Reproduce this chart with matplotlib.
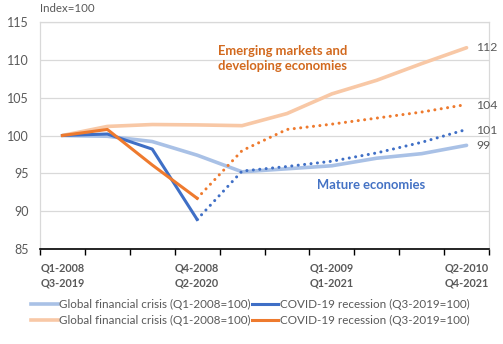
import matplotlib
matplotlib.use("Agg")
import matplotlib.pyplot as plt
from matplotlib.lines import Line2D

plt.rcParams['font.family'] = ['Lato', 'DejaVu Sans']

# Data (index = 100 at start of each recession)
x_labels = ["Q1-2008\nQ3-2019", "", "", "Q4-2008\nQ2-2020", "", "",
            "Q1-2009\nQ1-2021", "", "", "Q2-2010\nQ4-2021"]
quarters = list(range(10))

gfc_mature = [100, 99.9, 99.2, 97.4, 95.2, 95.6, 96.0, 97.0, 97.6, 98.7]
gfc_emerging = [100, 101.2, 101.45, 101.4, 101.3, 102.9, 105.5, 107.3, 109.5, 111.6]

covid_mature_actual = [100, 100.2, 98.2, 88.9]
covid_mature_forecast = [88.9, 95.3, 95.9, 96.6, 97.7, 99.1, 100.8]
covid_emerging_actual = [100, 100.8, 96.1, 91.7]
covid_emerging_forecast = [91.7, 98.0, 100.8, 101.5, 102.3, 103.1, 104.1]

end_labels = ["112", "104", "101", "99"]
end_values = [111.6, 104.0, 100.7, 98.7]

c_lblue = "#A9C1E6"
c_dblue = "#3F6FC6"
c_lorange = "#F8C8A6"
c_orange = "#EE7A2E"
c_text = "#595959"

fig = plt.figure(figsize=(5.03, 3.44), dpi=100)
ax = fig.add_axes([40/503, 1-249/344, (489-40)/503, (249-22)/344])

ax.plot(quarters, gfc_mature, color=c_lblue, lw=2.6, solid_capstyle='round', zorder=2)
ax.plot(quarters, gfc_emerging, color=c_lorange, lw=2.6, solid_capstyle='round', zorder=2)
ax.plot(quarters[:4], covid_mature_actual, color=c_dblue, lw=2.2, zorder=3)
ax.plot(quarters[:4], covid_emerging_actual, color=c_orange, lw=2.2, zorder=3)
ax.plot(quarters[3:], covid_mature_forecast, color=c_dblue, lw=2.2,
        linestyle=(0, (0.01, 2.1)), dash_capstyle='round', zorder=3)
ax.plot(quarters[3:], covid_emerging_forecast, color=c_orange, lw=2.2,
        linestyle=(0, (0.01, 2.1)), dash_capstyle='round', zorder=3)

ax.set_xlim(-0.5, 9.5)
ax.set_ylim(85, 115)
ax.set_yticks([85, 90, 95, 100, 105, 110, 115])
ax.yaxis.grid(True, color="#D9D9D9", lw=0.9)
ax.set_axisbelow(True)
ax.tick_params(axis='y', length=0, labelsize=9, labelcolor=c_text, pad=8)

ax.set_xticks([i - 0.5 for i in range(11)])
ax.set_xticklabels([])
ax.set_xticks(quarters, minor=True)
ax.set_xticklabels(x_labels, minor=True, fontweight='bold', fontsize=7.8, color=c_text,
                   linespacing=1.4)
ax.tick_params(axis='x', which='major', length=4, width=1, color='black', direction='out')
ax.tick_params(axis='x', which='minor', length=0, pad=10)

for s in ['top', 'right', 'left']:
    ax.spines[s].set_color("#D9D9D9")
    ax.spines[s].set_linewidth(0.9)
ax.spines['bottom'].set_color('black')
ax.spines['bottom'].set_linewidth(1.2)

ax.text(3.46, 110.2, "Emerging markets and\ndeveloping economies", color="#D2691E",
        fontweight='bold', fontsize=9.4, ha='left', va='center', linespacing=1.3)
ax.text(6.88, 93.45, "Mature economies", color="#4472C4", fontweight='bold',
        fontsize=9.4, ha='center', va='center')

for lab, v in zip(end_labels, end_values):
    ax.text(9.22, v, lab, color=c_text, fontsize=8.8, ha='left', va='center')

fig.text(40/503, 1-8/344, "Index=100", color=c_text, fontsize=8.3, ha='left', va='center')

handles = [
    Line2D([], [], color=c_lblue, lw=2.6),
    Line2D([], [], color=c_lorange, lw=2.6),
    Line2D([], [], color=c_dblue, lw=2.2),
    Line2D([], [], color=c_orange, lw=2.2),
]
labels = ["Global financial crisis (Q1-2008=100)", "Global financial crisis (Q1-2008=100)",
          "COVID-19 recession (Q3-2019=100)", "COVID-19 recession (Q3-2019=100)"]
leg = fig.legend(handles, labels, ncol=2, loc='center', bbox_to_anchor=(250/503, 1-312.5/344),
                 frameon=False, fontsize=8.4, handlelength=2.3, handletextpad=0.1,
                 columnspacing=0.1, labelspacing=0.35, borderpad=0)
for t in leg.get_texts():
    t.set_color(c_text)

fig.savefig("out.png", dpi=100)
